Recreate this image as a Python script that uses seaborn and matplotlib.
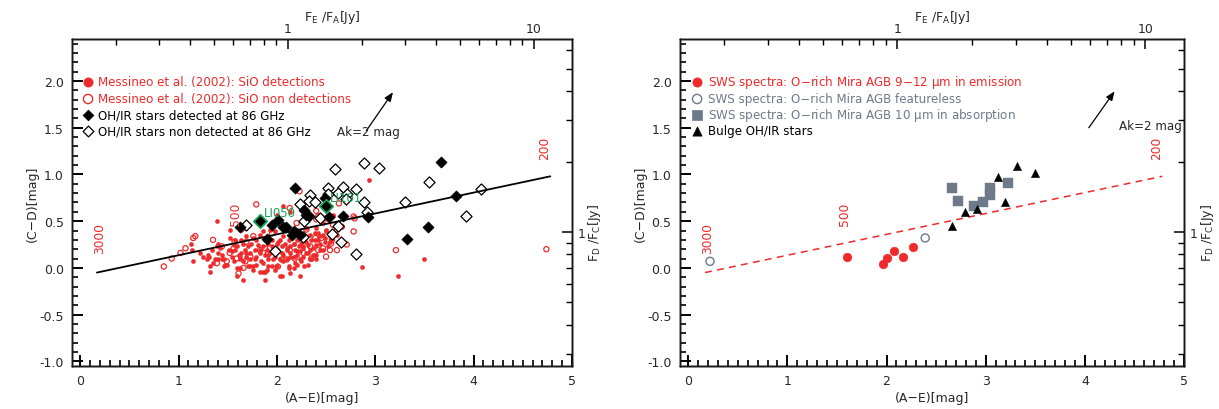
import numpy as np
import pandas as pd
import matplotlib
matplotlib.use("Agg")
import matplotlib.pyplot as plt
from matplotlib.ticker import FixedLocator, FixedFormatter, MultipleLocator, NullFormatter
import seaborn as sns

# ---------------------------------------------------------------- data
# Messineo et al. (2002): SiO detections  (A-E, C-D)
sio_det_ae = [1.15, 1.14, 1.13, 1.25, 1.30, 1.32, 1.32, 1.39, 1.40, 1.42, 1.44, 1.44,
              1.51, 1.52, 1.54, 1.56, 1.57, 1.59, 1.61, 1.62, 1.62, 1.64, 1.66, 1.68,
              1.69, 1.71, 1.73, 1.73, 1.74, 1.76, 1.78, 1.79, 1.79, 1.81, 1.83, 1.84,
              1.86, 1.88, 1.88, 1.90, 1.91, 1.91, 1.93, 1.95, 1.95, 1.96, 1.98, 2.00,
              2.01, 2.03, 2.03, 2.05, 2.06, 2.06, 2.08, 2.10, 2.10, 2.12, 2.13, 2.13,
              2.15, 2.17, 2.17, 2.18, 2.20, 2.20, 2.22, 2.23, 2.25, 2.27, 2.27, 2.28,
              2.30, 2.30, 2.32, 2.34, 2.35, 2.37, 2.39, 2.40, 2.42, 2.44, 2.44, 2.47,
              2.49, 2.50, 2.54, 2.55, 2.57, 2.61, 2.05, 2.17, 2.20, 1.59, 1.46, 1.86,
              1.90, 2.34, 2.40, 2.94, 2.87, 3.23, 2.06, 2.13, 2.00, 1.93, 1.83,
              1.69, 1.52, 1.39, 1.22, 1.29, 1.34, 1.37, 1.49, 1.57, 1.64, 1.76, 1.86,
              1.98, 2.10, 2.20, 2.30, 2.40, 2.47, 1.73, 1.79, 1.91, 1.98, 2.12, 2.25,
              2.32, 2.39, 1.31, 1.40, 3.50, 2.57,
              1.54, 1.56, 1.62, 1.66, 1.69, 1.71, 1.76, 1.78, 1.83, 1.86, 1.88,
              1.91, 1.95, 1.96, 2.00, 2.01, 2.05, 2.06, 2.10, 2.12, 2.13, 2.17, 2.18,
              2.20, 2.22, 2.23, 2.27, 2.28, 2.30, 2.32, 2.34, 2.35, 2.37, 2.39, 2.40,
              2.42, 2.44, 2.47, 2.49, 2.50, 2.52, 2.54, 2.03, 1.83, 1.59, 1.47, 1.46,
              1.35, 1.40, 1.66, 1.88, 2.13, 2.23]
sio_det_cd = [0.07, 0.19, 0.26, 0.12, 0.14, 0.015, -0.04, 0.50, 0.26, 0.21, 0.14, 0.09,
              0.19, 0.32, 0.12, 0.07, 0.19, 0.23, 0.14, 0.09, 0.00, 0.16, 0.26, 0.19,
              0.12, 0.23, 0.16, 0.09, 0.26, 0.015, 0.19, 0.30, 0.12, 0.25, 0.16, 0.07,
              0.23, 0.30, 0.14, 0.19, 0.26, 0.09, 0.16, 0.30, 0.015, 0.21, 0.12, 0.26,
              0.18, 0.30, 0.09, 0.23, 0.14, 0.34, 0.26, 0.19, 0.09, 0.30, 0.16, 0.23,
              0.34, 0.12, 0.26, 0.19, 0.30, 0.14, 0.23, 0.18, 0.26, 0.12, 0.21, 0.30,
              0.16, 0.34, 0.25, 0.19, 0.30, 0.14, 0.37, 0.25, 0.30, 0.34, 0.19, 0.35,
              0.28, 0.41, 0.34, 0.30, 0.57, 0.35, -0.09, 0.00, 0.03, -0.09, 0.015, -0.04,
              -0.02, 0.09, 0.10, 0.94, 0.01, -0.09, 0.66, 0.60, 0.57, 0.41, 0.35,
              0.34, 0.41, 0.23, 0.16, 0.09, 0.19, 0.10, 0.03, 0.30, 0.30, 0.32, 0.39,
              0.39, 0.41, 0.41, 0.43, 0.43, 0.48, 0.015, 0.03, 0.015, -0.02, 0.015, 0.07,
              0.03, 0.14, 0.12, 0.09, 0.10, 0.56,
              0.18, 0.25, 0.12, 0.07, 0.16, 0.02, -0.02, 0.10, 0.19, 0.05, -0.04,
              0.14, 0.23, 0.09, 0.02, 0.28, 0.16, 0.07, 0.21, 0.00, 0.12, 0.26, 0.05,
              0.18, 0.32, 0.10, 0.23, 0.02, 0.28, 0.16, 0.35, 0.09, 0.21, 0.30, 0.14,
              0.37, 0.26, 0.19, 0.32, 0.39, 0.23, 0.28, -0.09, -0.04, 0.00, 0.03, 0.10,
              0.05, 0.16, -0.13, -0.13, -0.06, -0.09]

# Messineo et al. (2002): SiO non detections
sio_non_ae = [0.85, 0.93, 1.02, 1.07, 1.15, 1.17, 1.35, 1.44, 1.52, 1.57, 1.59, 1.61,
              1.68, 1.69, 1.76, 1.83, 1.91, 2.01, 2.10, 2.18, 2.27, 2.34, 2.42, 2.45,
              2.50, 2.55, 2.61, 2.66, 2.71, 2.78, 2.30, 2.23, 2.13, 1.79, 2.20, 2.40,
              2.61, 2.00, 1.64, 1.49, 1.73, 1.90, 2.05, 2.13, 2.47, 3.21, 1.95, 2.25,
              2.35, 2.54, 1.56, 1.88, 1.39, 1.66, 2.42, 2.50, 2.78, 2.79, 2.40, 2.63,
              2.57, 2.39, 2.56, 4.74]
sio_non_cd = [0.015, 0.10, 0.16, 0.21, 0.32, 0.34, 0.30, 0.23, 0.16, 0.28, 0.10, -0.06,
              0.07, 0.28, 0.34, 0.19, 0.16, 0.015, 0.09, 0.10, 0.16, 0.23, 0.19, 0.32,
              0.12, 0.26, 0.19, 0.44, 0.25, 0.39, 0.41, 0.82, 0.64, 0.68, 0.48, 0.52,
              0.41, 0.19, 0.41, 0.07, 0.12, 0.30, 0.09, 0.19, 0.21, 0.19, 0.37, 0.30,
              0.10, 0.19, 0.21, 0.21, 0.05, 0.00, 0.55, 0.53, 0.55, 0.53, 0.61, 0.69,
              0.46, 0.32, 0.30, 0.20]

# OH/IR stars detected at 86 GHz
oh_det_ae = [1.62, 1.95, 2.01, 2.06, 2.09, 2.18, 1.90, 2.15, 2.17, 2.23, 2.28, 2.30,
             2.33, 2.49, 2.53, 2.67, 2.93, 3.67, 3.82, 3.54, 3.32]
oh_det_cd = [0.44, 0.46, 0.51, 0.44, 0.44, 0.85, 0.31, 0.35, 0.40, 0.35, 0.62, 0.57,
             0.55, 0.75, 0.54, 0.55, 0.54, 1.13, 0.77, 0.44, 0.31]

# OH/IR stars non detected at 86 GHz
oh_non_ae = [1.69, 1.98, 2.23, 2.28, 2.34, 2.33, 2.39, 2.44, 2.52, 2.52, 2.59, 2.62,
             2.67, 2.71, 2.70, 2.80, 2.89, 3.04, 2.89, 2.92, 2.62, 2.56, 2.65, 2.80,
             2.27, 3.55, 4.08, 3.92, 3.30]
oh_non_cd = [0.46, 0.18, 0.68, 0.50, 0.78, 0.72, 0.70, 0.53, 0.86, 0.79, 1.06, 0.80,
             0.87, 0.79, 0.74, 0.84, 1.12, 1.07, 0.70, 0.60, 0.45, 0.36, 0.28, 0.15,
             0.33, 0.92, 0.84, 0.56, 0.71]

# Named sources
named_src = ["LI050", "LI101"]
named_ae = [1.83, 2.50]
named_cd = [0.50, 0.66]

# Reference relation and its temperature marks
line_ae = [0.17, 4.78]
line_cd = [-0.05, 0.98]
temp_labels = ["3000", "500", "200"]
temp_ae = [0.20, 1.58, 4.72]
temp_cd = [0.32, 0.58, 1.29]

# Extinction vector Ak = 2 mag
ext_left_tail = (2.91, 1.47)
ext_left_head = (3.18, 1.88)
ext_right_tail = (4.04, 1.50)
ext_right_head = (4.30, 1.89)

# SWS spectra samples (right panel)
sws_em_ae = [1.60, 1.96, 2.00, 2.08, 2.17, 2.27]
sws_em_cd = [0.115, 0.04, 0.11, 0.185, 0.115, 0.22]
sws_flat_ae = [0.22, 2.39]
sws_flat_cd = [0.07, 0.32]
sws_abs_ae = [2.66, 2.72, 2.88, 2.97, 3.04, 3.04, 3.23]
sws_abs_cd = [0.85, 0.72, 0.66, 0.70, 0.78, 0.85, 0.91]
bulge_ae = [2.66, 2.79, 2.91, 3.12, 3.19, 3.32, 3.50]
bulge_cd = [0.45, 0.60, 0.63, 0.97, 0.70, 1.09, 1.02]

# Flux-ratio axes: colour = zero point + 2.5 log10(flux ratio)
AE_ZP = 2.11
CD_ZP = 0.386
AE_LIM = (-0.083, 5.0)
CD_LIM = (-1.05, 2.45)

RED = "#EE2A2A"
SLATE = "#6E7A8A"
GREEN = "#17A055"
INK = "black"

# ---------------------------------------------------------------- style
sns.set_theme(style="ticks", rc={"axes.axisbelow": False})
plt.rcParams["font.family"] = ["DejaVu Sans"]
plt.rcParams["axes.edgecolor"] = "#1A1A1A"
plt.rcParams["axes.linewidth"] = 1.0
plt.rcParams["mathtext.default"] = "regular"

fig = plt.figure(figsize=(12.19, 4.10), dpi=100)
ax_l = fig.add_axes([0.0591, 0.1049, 0.4101, 0.7976])
ax_r = fig.add_axes([0.5578, 0.1049, 0.4135, 0.7976])

TICK_FS = 9
LBL_FS = 9
LEG_FS = 8.6


def ae_to_flux(x):
    return 10 ** ((np.asarray(x, dtype=float) - AE_ZP) / 2.5)


def cd_to_flux(y):
    return 10 ** ((np.asarray(y, dtype=float) - CD_ZP) / 2.5)


def frame(ax):
    ax.set_xlim(*AE_LIM)
    ax.set_ylim(*CD_LIM)
    ax.xaxis.set_major_locator(MultipleLocator(1))
    ax.xaxis.set_minor_locator(MultipleLocator(0.1))
    ax.yaxis.set_major_locator(MultipleLocator(0.5))
    ax.yaxis.set_minor_locator(MultipleLocator(0.1))
    ax.yaxis.set_major_formatter(plt.FuncFormatter(lambda v, p: f"{v:.1f}"))
    ax.xaxis.set_major_formatter(plt.FuncFormatter(lambda v, p: f"{v:.0f}"))
    ax.set_xlabel("(A\u2212E)[mag]", fontsize=LBL_FS)
    ax.xaxis.set_label_coords(0.5, -0.075)
    ax.set_ylabel("(C\u2212D)[mag]", fontsize=LBL_FS)
    ax.yaxis.set_label_coords(-0.066, 0.5)
    ax.text(0.52, 1.07, r"F$_{\rm E}$ /F$_{\rm A}$[Jy]", fontsize=LBL_FS,
            ha="center", va="center", transform=ax.transAxes)
    ax.text(1.046, 0.41, r"F$_{\rm D}$ /F$_{\rm C}$[Jy]", fontsize=LBL_FS, rotation=90,
            ha="center", va="center", transform=ax.transAxes)

    # flux-ratio scales on log axes overlaid on the colour axes
    top = ax.twiny()
    top.set_xscale("log")
    top.set_xlim(ae_to_flux(AE_LIM[0]), ae_to_flux(AE_LIM[1]))
    top.xaxis.set_major_locator(FixedLocator([1, 10]))
    top.xaxis.set_minor_locator(FixedLocator([0.2, 0.3, 0.4, 0.5, 0.6, 0.7, 0.8, 0.9,
                                              2, 3, 4, 5, 6, 7, 8, 9]))
    top.xaxis.set_major_formatter(FixedFormatter(["1", "10"]))
    top.xaxis.set_minor_formatter(NullFormatter())
    top.tick_params(axis="x", which="major", direction="in", length=7, width=1.1,
                    labelsize=TICK_FS, color=INK, pad=3, top=True, bottom=False)
    top.tick_params(axis="x", which="minor", direction="in", length=4, width=1.0,
                    color=INK, top=True, bottom=False)

    right = ax.twinx()
    right.set_yscale("log")
    right.set_ylim(cd_to_flux(CD_LIM[0]), cd_to_flux(CD_LIM[1]))
    right.yaxis.set_major_locator(FixedLocator([1]))
    right.yaxis.set_minor_locator(FixedLocator([0.3, 0.4, 0.5, 0.6, 0.7, 0.8, 0.9,
                                                2, 3, 4, 5, 6, 7]))
    right.yaxis.set_major_formatter(FixedFormatter(["1"]))
    right.yaxis.set_minor_formatter(NullFormatter())
    right.tick_params(axis="y", which="major", direction="in", length=7, width=1.1,
                      labelsize=TICK_FS, color=INK, pad=4, right=True, left=False)
    right.tick_params(axis="y", which="minor", direction="in", length=4, width=1.0,
                      color=INK, right=True, left=False)

    # inward tick marks of the colour axes
    ax.tick_params(axis="both", which="major", direction="in", length=8, width=1.4,
                   color=INK)
    ax.tick_params(axis="both", which="minor", direction="in", length=4, width=1.2,
                   color=INK)
    ax.tick_params(axis="both", which="major", labelsize=TICK_FS, pad=6)


def legend_rows(ax, rows, mx, tx):
    ys = [0.8685, 0.8165, 0.7676, 0.7187]
    for (marker, s, fc, ec, lw, label, tcol), y in zip(rows, ys):
        ax.scatter([mx], [y], marker=marker, s=s, facecolor=fc, edgecolor=ec,
                   linewidth=lw, transform=ax.transAxes, clip_on=False, zorder=5)
        ax.text(tx, y, label, color=tcol, fontsize=LEG_FS, va="center", ha="left",
                transform=ax.transAxes)


def temperatures(ax):
    for t, x, y in zip(temp_labels, temp_ae, temp_cd):
        ax.text(x, y, t, rotation=90, color=RED, fontsize=8.8, ha="center", va="center")


def extinction(ax, tail, head):
    ax.annotate("", xy=head, xytext=tail,
                arrowprops=dict(arrowstyle="-|>,head_length=0.45,head_width=0.18",
                                color="black", lw=0.9, shrinkA=0, shrinkB=0))


# ---------------------------------------------------------------- left panel
sns.lineplot(x=line_ae, y=line_cd, ax=ax_l, color="black", lw=1.3, zorder=4)
sns.scatterplot(x=sio_det_ae, y=sio_det_cd, ax=ax_l, marker="o", s=9,
                color=RED, edgecolor=RED, linewidth=0.3, zorder=2)
sns.scatterplot(x=sio_non_ae, y=sio_non_cd, ax=ax_l, marker="o", s=14,
                facecolor="none", edgecolor=RED, linewidth=0.9, zorder=2)
sns.scatterplot(x=oh_non_ae, y=oh_non_cd, ax=ax_l, marker="D", s=32,
                facecolor="white", edgecolor="black", linewidth=0.9, zorder=3)
sns.scatterplot(x=oh_det_ae, y=oh_det_cd, ax=ax_l, marker="D", s=32,
                color="black", edgecolor="black", linewidth=0.5, zorder=3)
sns.scatterplot(x=named_ae, y=named_cd, ax=ax_l, marker="D", s=46,
                color="black", edgecolor=GREEN, linewidth=1.3, zorder=4)
for name, x, y in zip(named_src, named_ae, named_cd):
    ax_l.text(x + 0.04, y + 0.09, name, color=GREEN, fontsize=8.5,
              ha="left", va="center", zorder=6)
temperatures(ax_l)
extinction(ax_l, ext_left_tail, ext_left_head)
ax_l.text(2.61, 1.46, "Ak=2 mag", fontsize=LEG_FS, ha="left", va="center")
legend_rows(ax_l, [
    ("o", 44, RED, RED, 0.5, "Messineo et al. (2002): SiO detections", RED),
    ("o", 44, "none", RED, 1.0, "Messineo et al. (2002): SiO non detections", RED),
    ("D", 30, "black", "black", 0.5, "OH/IR stars detected at 86 GHz", "black"),
    ("D", 30, "white", "black", 0.9, "OH/IR stars non detected at 86 GHz", "black"),
], 0.032, 0.052)

# ---------------------------------------------------------------- right panel
sns.lineplot(x=line_ae, y=line_cd, ax=ax_r, color=RED, lw=1.1, zorder=2,
             dashes=False, linestyle=(0, (4.5, 3.5)))
sns.scatterplot(x=sws_em_ae, y=sws_em_cd, ax=ax_r, marker="o", s=40,
                color=RED, edgecolor=RED, linewidth=0.3, zorder=3)
sns.scatterplot(x=sws_flat_ae, y=sws_flat_cd, ax=ax_r, marker="o", s=34,
                facecolor="none", edgecolor=SLATE, linewidth=1.0, zorder=3)
sns.scatterplot(x=sws_abs_ae, y=sws_abs_cd, ax=ax_r, marker="s", s=44,
                color=SLATE, edgecolor=SLATE, linewidth=0.3, zorder=3)
sns.scatterplot(x=bulge_ae, y=bulge_cd, ax=ax_r, marker="^", s=36,
                color="black", edgecolor="black", linewidth=0.3, zorder=4)
temperatures(ax_r)
extinction(ax_r, ext_right_tail, ext_right_head)
ax_r.text(4.34, 1.52, "Ak=2 mag", fontsize=LEG_FS, ha="left", va="center")
legend_rows(ax_r, [
    ("o", 44, RED, RED, 0.5, "SWS spectra: O\u2212rich Mira AGB 9\u221212 $\\mu$m in emission", RED),
    ("o", 44, "none", SLATE, 1.0, "SWS spectra: O\u2212rich Mira AGB featureless", SLATE),
    ("s", 44, SLATE, SLATE, 0.5, "SWS spectra: O\u2212rich Mira AGB 10 $\\mu$m in absorption", SLATE),
    ("^", 44, "black", "black", 0.5, "Bulge OH/IR stars", "black"),
], 0.034, 0.056)

# axes furniture comes after the seaborn calls
for ax in (ax_l, ax_r):
    leg = ax.get_legend()
    if leg is not None:
        leg.remove()
    frame(ax)

fig.savefig("out.png", dpi=100, facecolor="white")
